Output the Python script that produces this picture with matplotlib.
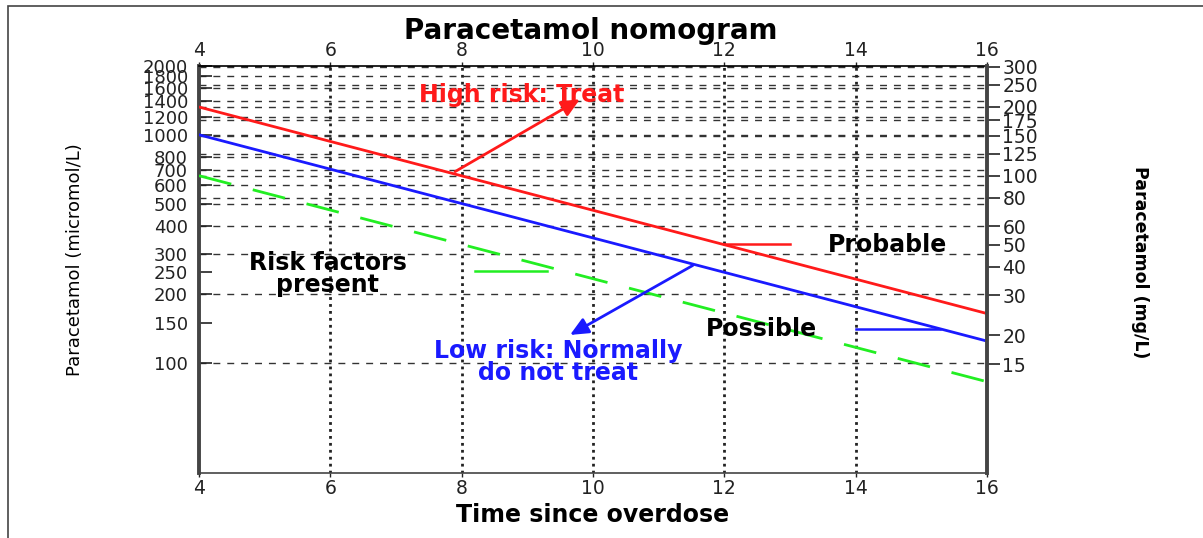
import matplotlib
matplotlib.use("Agg")
import matplotlib.pyplot as plt
from matplotlib.patches import Rectangle
from matplotlib.ticker import FixedLocator, NullLocator, FixedFormatter

# ---- data ----
times = [4, 16]
high_risk = [1323, 165]        # micromol/L (200 mg/L line)
possible = [1000, 125]         # micromol/L (150 mg/L line)
risk_factors = [662, 83]       # micromol/L (100 mg/L line)

left_ticks = [100, 150, 200, 250, 300, 400, 500, 600, 700, 800, 1000, 1200, 1400, 1600, 1800, 2000]
left_grid = [100, 200, 300, 400, 500, 600, 700, 800, 1000, 1200, 1400, 1600, 1800, 2000]
right_ticks = [15, 20, 30, 40, 50, 60, 80, 100, 125, 150, 175, 200, 250, 300]
right_grid = [80, 100, 125, 150, 175, 200, 250, 300]
x_ticks = [4, 6, 8, 10, 12, 14, 16]
MG_PER_UMOL = 0.15116

fig = plt.figure(figsize=(12.03, 5.38), dpi=100)
# outer frame
fig.patches.append(Rectangle((8/1203, -0.1), 1.2, 1 - 6/538 + 0.1, transform=fig.transFigure,
                             fill=False, edgecolor='#444444', linewidth=1.2))

ax = fig.add_axes([199/1203, 1 - 473/538, (987-199)/1203, (473-66)/538])
ax.set_yscale('log')
ax.set_xlim(4, 16)
ax.set_ylim(33.08, 2000)

# grid lines
for v in left_grid:
    ax.axhline(v, color='#333333', lw=1.0, ls=(0, (5, 5)), zorder=1)
for v in right_grid:
    ax.axhline(v / MG_PER_UMOL, color='#333333', lw=1.0, ls=(0, (5, 5)), zorder=1)
for t in x_ticks[1:-1]:
    ax.axvline(t, color='#222222', lw=2.0, ls=(0, (1, 1.5)), zorder=1)

# lines
ax.plot(times, high_risk, color='#ff1a1a', lw=2.0, zorder=3)
ax.plot(times, possible, color='#1a1aff', lw=2.0, zorder=3)
ax.plot(times, risk_factors, color='#22ee22', lw=2.0, ls=(0, (12, 8)), zorder=3)

# pointer lines
ax.plot([12.0, 13.0], [331, 331], color='#ff1a1a', lw=1.8, zorder=3)
ax.plot([14.0, 15.28], [141.5, 141.5], color='#1a1aff', lw=1.8, zorder=3)
ax.plot([8.2, 9.3], [253, 253], color='#22ee22', lw=1.8, zorder=3)

# arrows
ax.annotate('', xy=(9.8, 1430), xytext=(7.9, 690),
            arrowprops=dict(arrowstyle='-|>,head_length=1.1,head_width=0.5', color='#ff1a1a', lw=2.0,
                            shrinkA=0, shrinkB=0), zorder=4)
ax.annotate('', xy=(9.65, 133), xytext=(11.52, 268),
            arrowprops=dict(arrowstyle='-|>,head_length=1.1,head_width=0.5', color='#1a1aff', lw=2.0,
                            shrinkA=0, shrinkB=0), zorder=4)

# texts
tkw = dict(fontsize=17, fontweight='bold', ha='center', va='center', zorder=5)
ax.text(8.92, 1500, 'High risk: Treat', color='#ff1a1a', **tkw)
ax.text(9.47, 101, 'Low risk: Normally\ndo not treat', color='#1a1aff', linespacing=0.9, **tkw)
ax.text(5.96, 246, 'Risk factors\npresent', color='black', linespacing=0.9, **tkw)
ax.text(14.49, 329, 'Probable', color='black', **tkw)
ax.text(12.57, 141, 'Possible', color='black', **tkw)

# ticks
ax.yaxis.set_major_locator(FixedLocator(left_ticks))
ax.yaxis.set_major_formatter(FixedFormatter([str(v) for v in left_ticks]))
ax.yaxis.set_minor_locator(NullLocator())
ax.set_xticks(x_ticks)
ax.set_xticklabels([str(v) for v in x_ticks])
ax.tick_params(axis='y', direction='in', length=9, width=1.2, labelsize=13, colors='#222222', pad=8)
ax.tick_params(axis='x', direction='out', length=3, width=1, labelsize=13.5, colors='#222222',
               top=True, labeltop=True, pad=1.5)

ax.spines['left'].set_linewidth(2.8)
ax.spines['left'].set_color('#444444')
ax.spines['right'].set_visible(False)
ax.spines['top'].set_linewidth(1.2)
ax.spines['bottom'].set_linewidth(1.2)
ax.spines['bottom'].set_color('#444444')

ax2 = ax.twinx()
ax2.set_yscale('log')
ax2.set_ylim(33.08 * MG_PER_UMOL, 2000 * MG_PER_UMOL)
ax2.yaxis.set_major_locator(FixedLocator(right_ticks))
ax2.yaxis.set_major_formatter(FixedFormatter([str(v) for v in right_ticks]))
ax2.yaxis.set_minor_locator(NullLocator())
ax2.tick_params(axis='y', direction='out', length=9, width=1.2, labelsize=13.5, colors='#222222', pad=2)
ax2.spines['right'].set_linewidth(2.8)
ax2.spines['right'].set_color('#444444')
for s in ['left', 'top', 'bottom']:
    ax2.spines[s].set_visible(False)

fig.text(591/1203, 1 - 39/538, 'Paracetamol nomogram', fontsize=20, fontweight='bold',
         ha='center', va='baseline')
fig.text(593/1203, 1 - 515/538, 'Time since overdose', fontsize=17, fontweight='bold',
         ha='center', va='center')
fig.text(75/1203, 1 - 260/538, 'Paracetamol (micromol/L)', fontsize=13, rotation=90,
         ha='center', va='center')
fig.text(1140/1203, 1 - 262/538, 'Paracetamol (mg/L)', fontsize=12.5, fontweight='bold', rotation=270,
         ha='center', va='center')

fig.savefig('out.png', dpi=100)
